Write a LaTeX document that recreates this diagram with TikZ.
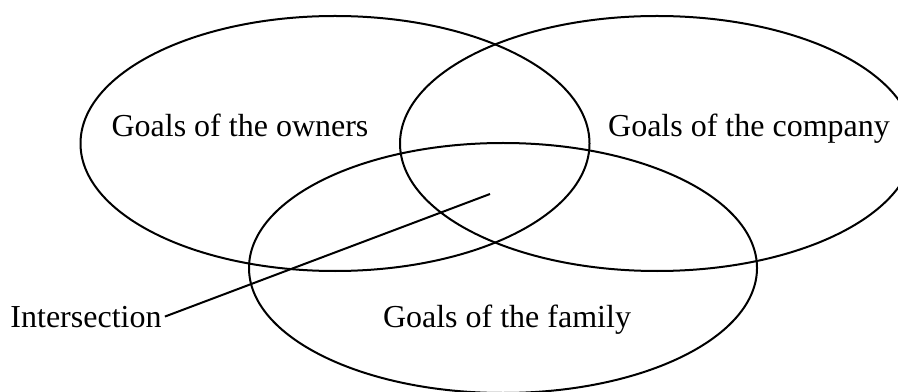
\documentclass[tikz,border=0pt]{standalone}
\usepackage{fontspec}
\setmainfont{Liberation Serif}
\usetikzlibrary{shapes,positioning}
\tikzstyle{goal} = [draw, ellipse, line width=1pt, inner sep=0pt]
\tikzstyle{goaltext} = [font=\fontsize{16}{19}\selectfont, anchor=base, inner sep=1.5pt]
\tikzstyle{tip} = [coordinate]
\tikzstyle{connector} = [line width=1pt]

\begin{document}
\begin{tikzpicture}[x=0.5pt, y=0.5pt]
		\clip (0,0) rectangle (898,391);
		
		\node[goal, minimum width=254.5pt, minimum height=127.5pt] (owners) at (335,247.5) {};
		\node[goal, minimum width=257pt, minimum height=127.5pt] (company) at (657,247.5) {};
		\node[goal, minimum width=254pt, minimum height=125pt] (family) at (503,123) {};
		
		\node[goaltext] (ownersText) at (240,254) {Goals of the owners};
		\node[goaltext] (companyText) at (749,254) {Goals of the company};
		\node[goaltext] (familyText) at (507,64) {Goals of the family};
		\node[goaltext] (isect) at (86,64) {Intersection};
		
		\node[tip] (middle) at (490,197) {};
		\draw[connector] (isect.east) to (middle);
	\end{tikzpicture}
\end{document}
